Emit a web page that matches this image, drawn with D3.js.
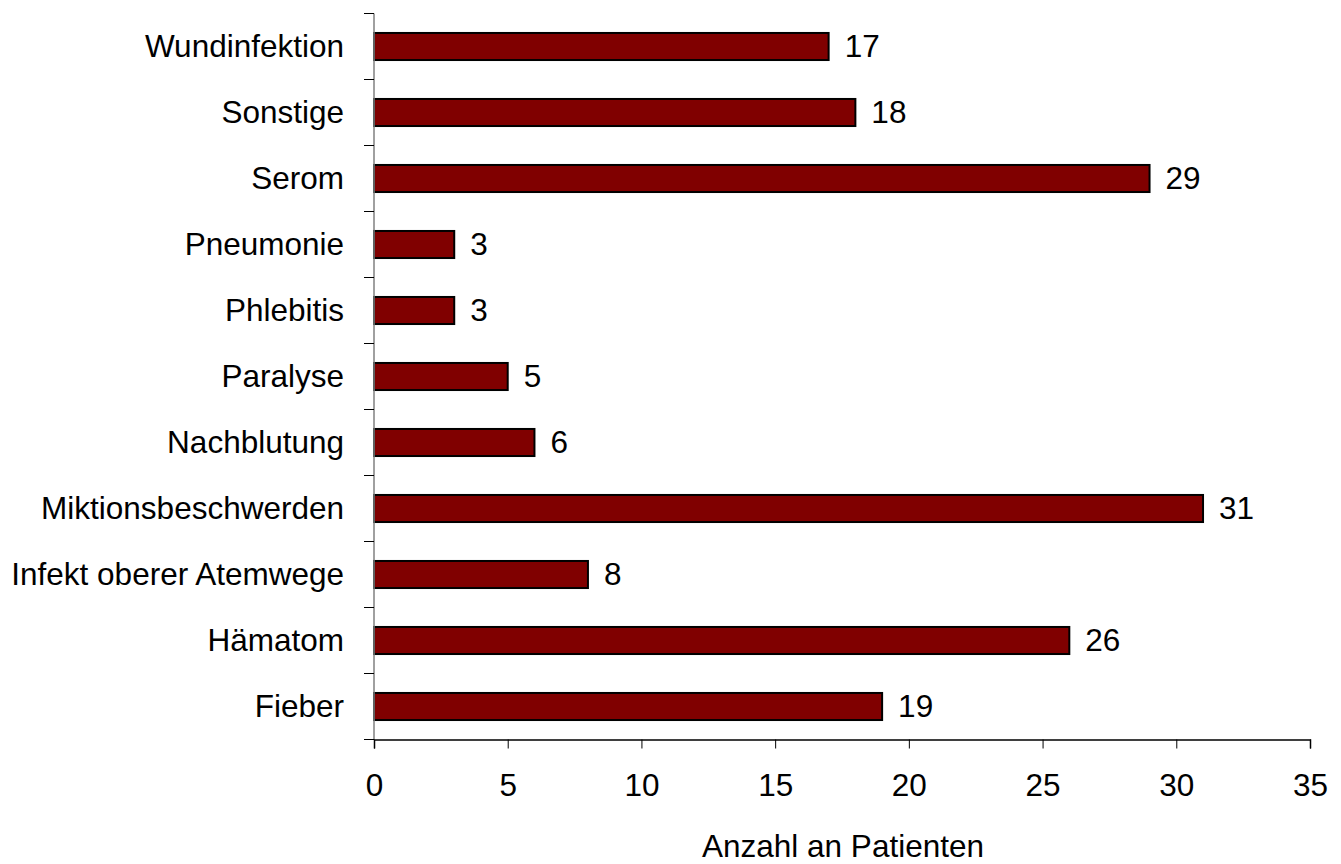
<!DOCTYPE html>
<html>
<head>
<meta charset="utf-8">
<script src="https://cdn.jsdelivr.net/npm/d3@7"></script>
<style>
  html, body { margin: 0; padding: 0; background: #fff; }
  svg { display: block; font-family: "Liberation Sans", Arial, sans-serif; }
</style>
</head>
<body>
<svg id="chart" width="1341" height="864"></svg>
<script>
const categories = ["Wundinfektion", "Sonstige", "Serom", "Pneumonie", "Phlebitis", "Paralyse",
  "Nachblutung", "Miktionsbeschwerden", "Infekt oberer Atemwege", "Hämatom", "Fieber"];
const values = [17, 18, 29, 3, 3, 5, 6, 31, 8, 26, 19];
const xTicks = [0, 5, 10, 15, 20, 25, 30, 35];
const xTitle = "Anzahl an Patienten";

const svg = d3.select("#chart");
const plotLeft = 374, plotRight = 1310, plotTop = 13.5, plotBottom = 739.5;
const fontSize = 31.5;

const x = d3.scaleLinear().domain([0, 35]).range([plotLeft, plotRight]);
const y = d3.scaleBand().domain(categories).range([plotTop, plotBottom])
  .paddingInner(0.59).paddingOuter(0.295);

// bars
svg.append("g").selectAll("rect").data(categories).join("rect")
  .attr("x", x(0))
  .attr("y", d => y(d))
  .attr("width", (d, i) => x(values[i]) - x(0))
  .attr("height", y.bandwidth())
  .attr("fill", "#800000")
  .attr("stroke", "#000")
  .attr("stroke-width", 2);

// value labels
svg.append("g").selectAll("text").data(categories).join("text")
  .attr("x", (d, i) => x(values[i]) + 16)
  .attr("y", d => y(d) + y.bandwidth() / 2 + 10.5)
  .attr("font-size", fontSize)
  .attr("fill", "#000")
  .text((d, i) => values[i]);

// y axis line
const step = y.step();
svg.append("line")
  .attr("x1", plotLeft).attr("x2", plotLeft)
  .attr("y1", plotTop).attr("y2", plotBottom)
  .attr("stroke", "#808080").attr("stroke-width", 1.5);

// y ticks at band boundaries
const boundaries = d3.range(categories.length + 1).map(i => plotTop + i * step);
svg.append("g").selectAll("line").data(boundaries).join("line")
  .attr("x1", plotLeft - 10).attr("x2", plotLeft)
  .attr("y1", d => d).attr("y2", d => d)
  .attr("stroke", "#000").attr("stroke-width", 1);

// category labels
svg.append("g").selectAll("text").data(categories).join("text")
  .attr("x", 344)
  .attr("y", d => y(d) + y.bandwidth() / 2 + 10.5)
  .attr("text-anchor", "end")
  .attr("font-size", fontSize)
  .attr("fill", "#000")
  .text(d => d);

// x axis
const xAxis = d3.axisBottom(x).tickValues(xTicks).tickSize(9).tickFormat(d3.format("d"));
const gx = svg.append("g").attr("transform", `translate(0,${plotBottom})`).call(xAxis);
gx.select(".domain").attr("stroke", "#000").attr("stroke-width", 1.5);
gx.selectAll(".tick line").attr("stroke", "#000");
gx.selectAll(".tick text")
  .attr("y", 56).attr("dy", 0)
  .attr("font-size", fontSize)
  .attr("font-family", "'Liberation Sans', Arial, sans-serif")
  .attr("fill", "#000");

// x title
svg.append("text")
  .attr("x", (plotLeft + plotRight) / 2 + 1)
  .attr("y", 857)
  .attr("text-anchor", "middle")
  .attr("font-size", fontSize)
  .attr("fill", "#000")
  .text(xTitle);
</script>
</body>
</html>
